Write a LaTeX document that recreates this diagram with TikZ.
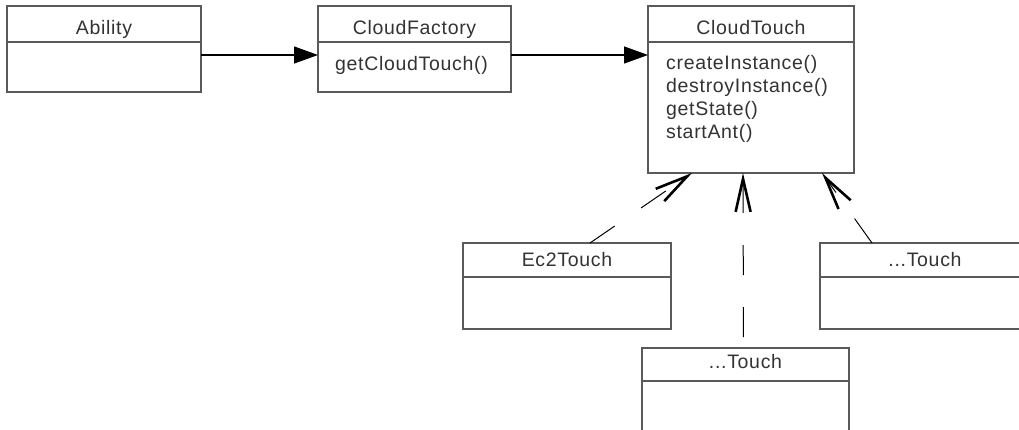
\documentclass[tikz,border=0pt]{standalone}
\usepackage{fontspec}
\setmainfont{Liberation Sans}
\newfontfamily\umlfont[LetterSpace=3.5]{Liberation Sans}
\usetikzlibrary{arrows.meta}
\definecolor{boxline}{HTML}{5A5A5A}
\definecolor{txt}{HTML}{333333}
\tikzset{
  classbox/.style={draw=boxline, line width=1.4pt, fill=white, anchor=north west,
    inner sep=0pt, outer sep=0pt},
  divider/.style={draw=boxline, line width=1.4pt},
  title/.style={anchor=base, inner sep=0pt, text=txt, font=\umlfont\fontsize{19.5}{23}\selectfont},
  member/.style={anchor=base west, inner sep=0pt, text=txt, font=\umlfont\fontsize{19.5}{23}\selectfont},
  assoc/.style={draw=black, line width=1.3pt, -{Triangle[length=24pt,width=17pt]}},
  realize/.style={draw=black, line width=1pt, dash pattern=on 30pt off 32pt,
    -{Straight Barb[length=33pt,width=15pt,line width=2.6pt]}}
}
\begin{document}
\begin{tikzpicture}[x=1pt,y=-1pt]
\useasboundingbox (0,0) rectangle (1019,430);
\clip (0,0) rectangle (1019,430);

% class frames
\node[classbox, minimum width=194pt, minimum height=86pt] (ability) at (7,6) {};
\node[classbox, minimum width=193pt, minimum height=86pt] (factory) at (318,6) {};
\node[classbox, minimum width=206pt, minimum height=167pt] (touch) at (648,6) {};
\node[classbox, minimum width=208pt, minimum height=86pt] (ec2) at (463,243) {};
\node[classbox, minimum width=210pt, minimum height=86pt] (other) at (820,243) {};
\node[classbox, minimum width=207pt, minimum height=100pt] (bottom) at (642,348) {};

% compartment dividers
\draw[divider] (ability.west |- 0,42) -- (ability.east |- 0,42);
\draw[divider] (factory.west |- 0,42) -- (factory.east |- 0,42);
\draw[divider] (touch.west |- 0,42) -- (touch.east |- 0,42);
\draw[divider] (ec2.west |- 0,277) -- (ec2.east |- 0,277);
\draw[divider] (other.west |- 0,277) -- (other.east |- 0,277);
\draw[divider] (bottom.west |- 0,381) -- (bottom.east |- 0,381);

% class names
\node[title] (abilityname) at (ability.north |- 0,35) {Ability};
\node[title] (factoryname) at (factory.north |- 0,35) {CloudFactory};
\node[title] (touchname) at (touch.north |- 0,35) {CloudTouch};
\node[title] (ec2name) at (ec2.north |- 0,266) {Ec2Touch};
\node[title] (othername) at (other.north |- 0,266) {...Touch};
\node[title] (bottomname) at (bottom.north |- 0,368) {...Touch};

% operations
\node[member] (m0) at (335,71) {getCloudTouch()};
\node[member] (m1) at (666,70) {createInstance()};
\node[member] (m2) at (666,93) {destroyInstance()};
\node[member] (m3) at (666,116) {getState()};
\node[member] (m4) at (666,139) {startAnt()};

% associations
\draw[assoc] (ability.east |- 0,55) -- (factory.west |- 0,55);
\draw[assoc] (factory.east |- 0,55) -- (touch.west |- 0,55);

% realizations
\draw[realize] ([xshift=23pt]ec2.north) -- ([xshift=-59pt]touch.south);
\draw[realize, dash phase=51pt] ([xshift=-2pt]bottom.north) -- ([xshift=-8pt]touch.south);
\draw[realize] ([xshift=-53pt]other.north) -- ([xshift=71pt]touch.south);
\end{tikzpicture}
\end{document}
